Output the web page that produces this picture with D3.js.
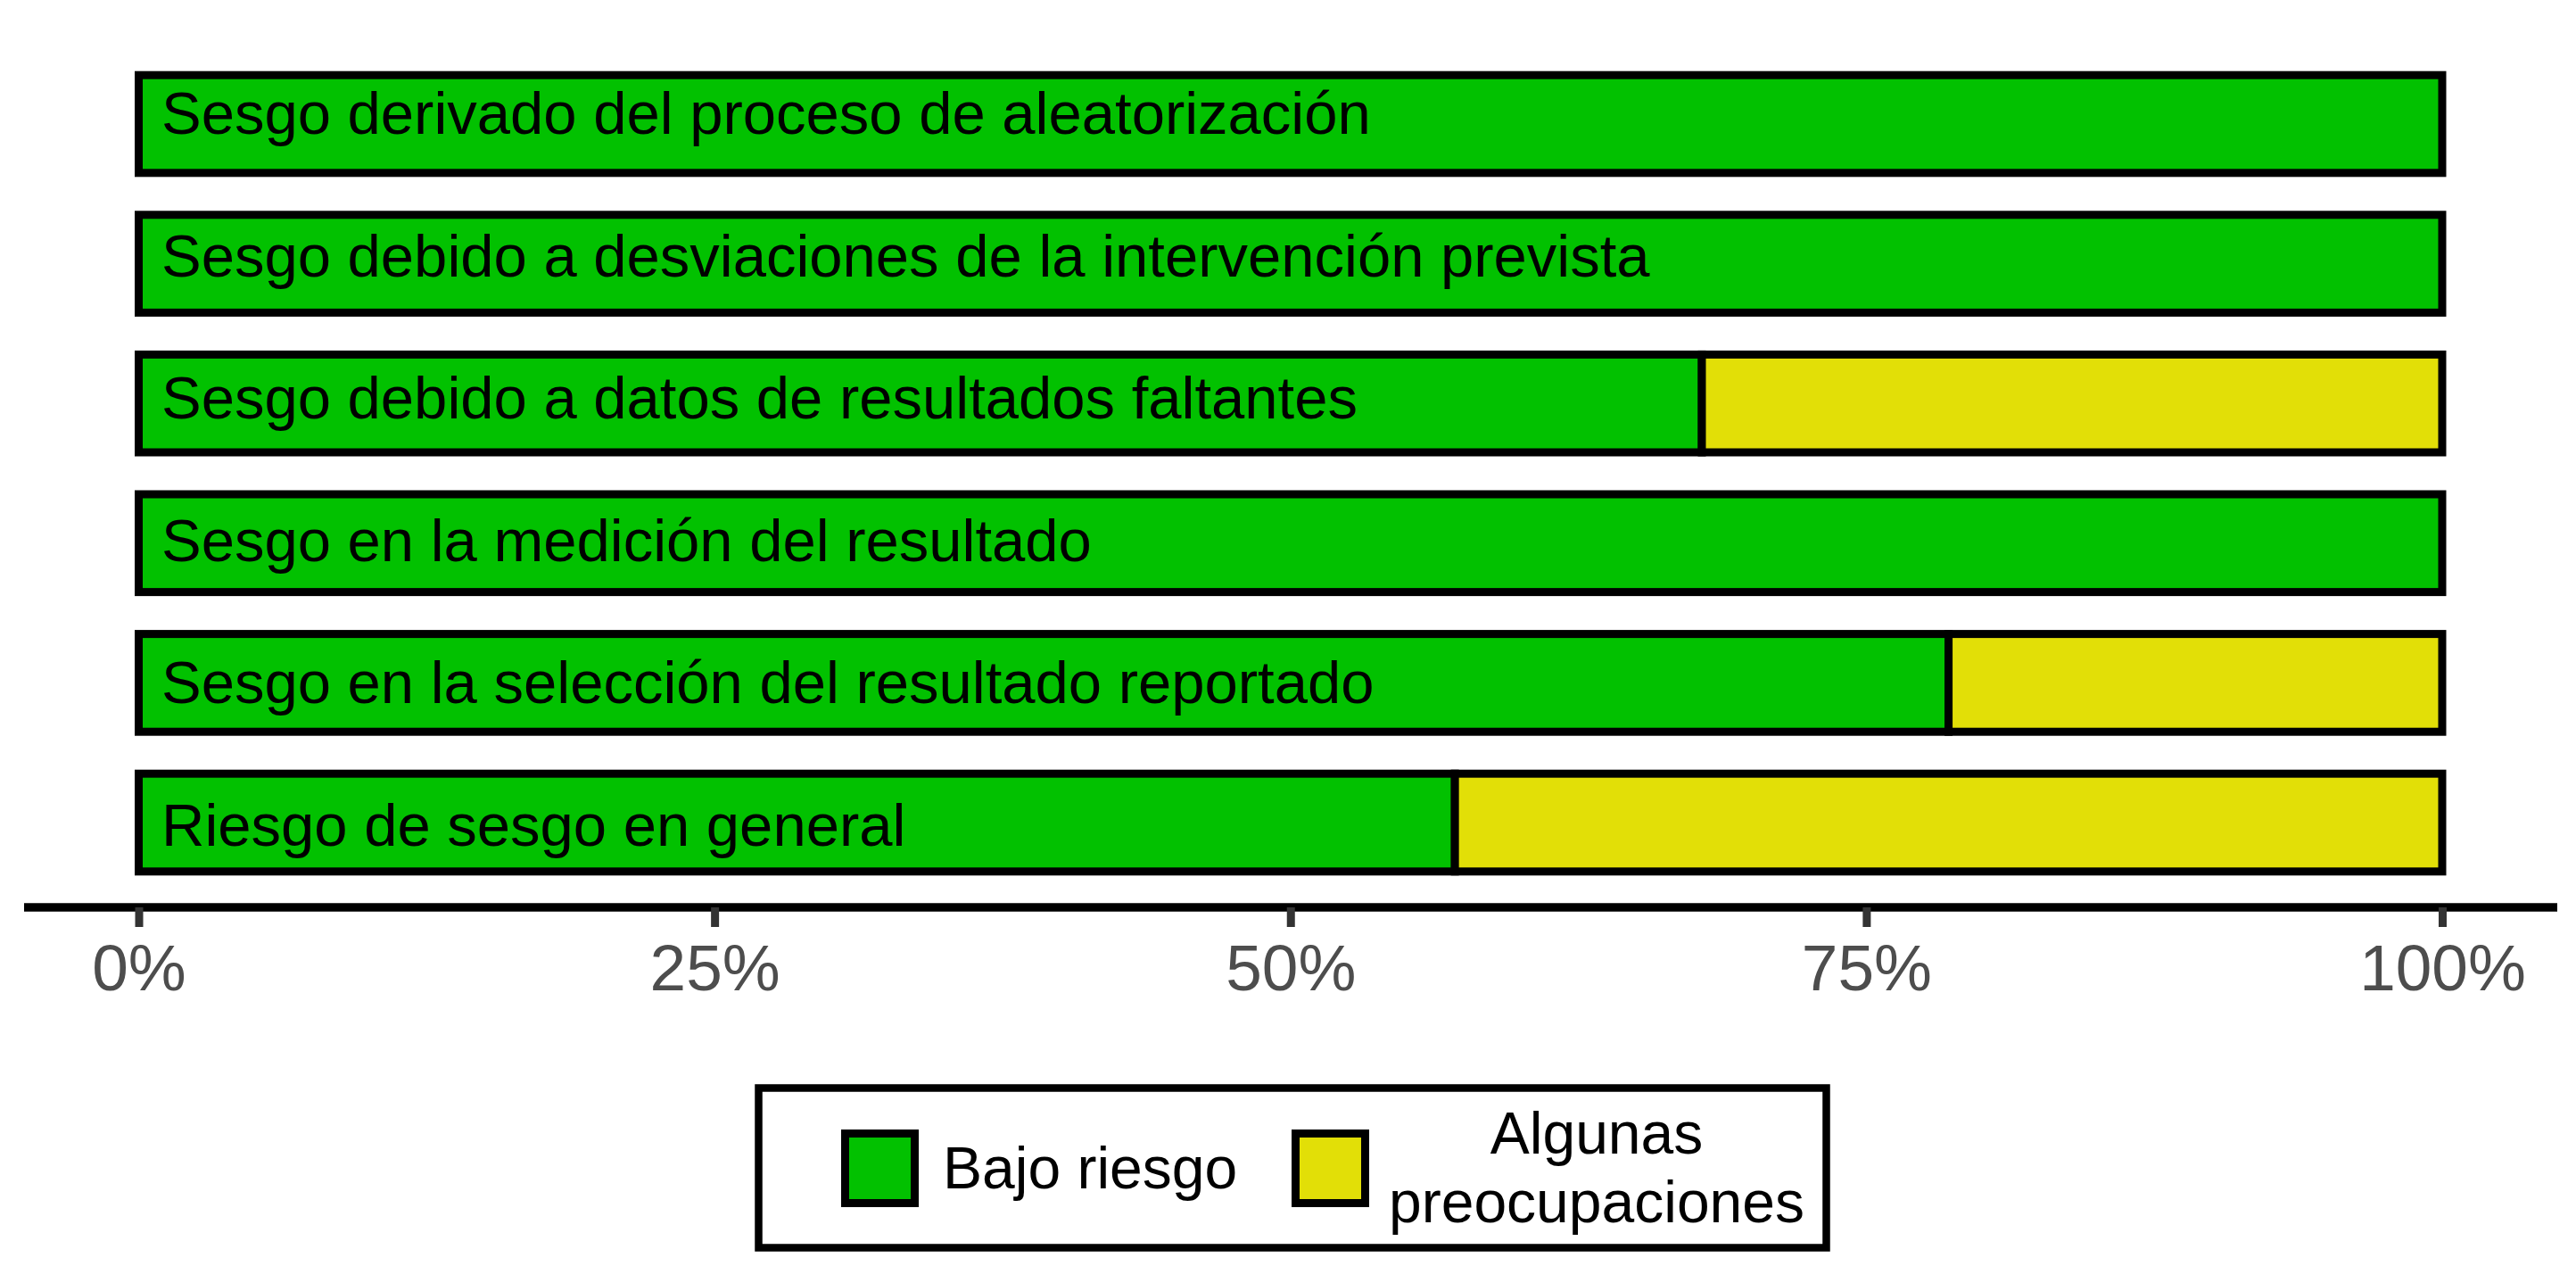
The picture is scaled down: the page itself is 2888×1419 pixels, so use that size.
<!DOCTYPE html>
<html lang="es">
<head>
<meta charset="UTF-8">
<title>Riesgo de sesgo</title>
<script src="https://d3js.org/d3.v7.min.js"></script>
<style>
  body { margin: 0; background: #fff; }
  svg { display: block; font-family: "Liberation Sans", Arial, Helvetica, sans-serif; }
</style>
</head>
<body>
<div id="chart"></div>
<script>
// dominios evaluados (de arriba a abajo)
var dominios = [
  "Sesgo derivado del proceso de aleatorización",
  "Sesgo debido a desviaciones de la intervención prevista",
  "Sesgo debido a datos de resultados faltantes",
  "Sesgo en la medición del resultado",
  "Sesgo en la selección del resultado reportado",
  "Riesgo de sesgo en general"
];
// porcentaje por juicio
var bajoRiesgo = [100, 100, 67.86, 100, 78.57, 57.14];
var algunasPreocupaciones = [0, 0, 32.14, 0, 21.43, 42.86];

var juicios = ["Bajo riesgo", "Algunas preocupaciones"];
var colores = ["#02C100", "#E2DF07"];
var ticks = [0, 25, 50, 75, 100];

var width = 2888, height = 1419;

var svg = d3.select("#chart").append("svg")
    .attr("width", width)
    .attr("height", height);

var x = d3.scaleLinear().domain([0, 100]).range([155.5, 2738]);

var y = d3.scaleBand()
    .domain(dominios)
    .range([60.7, 1000.3])
    .paddingInner(0.3)
    .paddingOuter(0.15);

// las etiquetas siguen su propio espaciado
var yLabel = d3.scalePoint().domain(dominios).range([150, 948]);

var color = d3.scaleOrdinal().domain(juicios).range(colores);

var rows = dominios.map(function(d, i) {
  return { dominio: d, "Bajo riesgo": bajoRiesgo[i], "Algunas preocupaciones": algunasPreocupaciones[i] };
});

var series = d3.stack().keys(juicios)(rows);

// barras apiladas
svg.append("g").selectAll("g")
  .data(series)
  .join("g")
    .attr("fill", d => color(d.key))
  .selectAll("rect")
  .data(d => d.filter(s => s[1] - s[0] > 0))
  .join("rect")
    .attr("x", d => x(d[0]))
    .attr("y", d => y(d.data.dominio))
    .attr("width", d => x(d[1]) - x(d[0]))
    .attr("height", y.bandwidth())
    .attr("stroke", "#000")
    .attr("stroke-width", 9);

// etiquetas dentro de las barras
svg.append("g").selectAll("text")
  .data(dominios)
  .join("text")
    .attr("x", x(0) + 25.5)
    .attr("y", d => yLabel(d))
    .attr("font-size", 67)
    .attr("fill", "#000")
    .text(d => d);

// eje x
var axisY = 1017;
svg.append("line")
    .attr("x1", 27).attr("x2", 2867)
    .attr("y1", axisY).attr("y2", axisY)
    .attr("stroke", "#000")
    .attr("stroke-width", 9.5);

var axis = svg.append("g")
    .attr("transform", `translate(0,${axisY})`)
    .call(d3.axisBottom(x).tickValues(ticks).tickFormat(d => d + "%").tickSize(22));

axis.select(".domain").remove();
axis.selectAll(".tick line")
    .attr("stroke", "#333333")
    .attr("stroke-width", 9);
axis.selectAll(".tick text")
    .attr("y", 93)
    .attr("dy", null)
    .attr("font-size", 73)
    .attr("font-family", "Liberation Sans, Arial, sans-serif")
    .attr("fill", "#4D4D4D");

// leyenda
var legend = svg.append("g");
legend.append("rect")
    .attr("x", 850.5).attr("y", 1219.5)
    .attr("width", 1197).attr("height", 179)
    .attr("fill", "#fff")
    .attr("stroke", "#000")
    .attr("stroke-width", 8.5);

var keyX = [947.5, 1452.5];
legend.selectAll("rect.key")
  .data(juicios)
  .join("rect")
    .attr("class", "key")
    .attr("x", (d, i) => keyX[i])
    .attr("y", 1270.5)
    .attr("width", 78)
    .attr("height", 78)
    .attr("fill", d => color(d))
    .attr("stroke", "#000")
    .attr("stroke-width", 9);

legend.append("text")
    .attr("x", 1057)
    .attr("y", 1332)
    .attr("font-size", 66)
    .attr("fill", "#000")
    .text(juicios[0]);

var t2 = legend.append("text")
    .attr("x", 1790)
    .attr("text-anchor", "middle")
    .attr("font-size", 66)
    .attr("fill", "#000");
t2.append("tspan").attr("x", 1790).attr("y", 1293).text("Algunas");
t2.append("tspan").attr("x", 1790).attr("y", 1370).text("preocupaciones");
</script>
</body>
</html>
